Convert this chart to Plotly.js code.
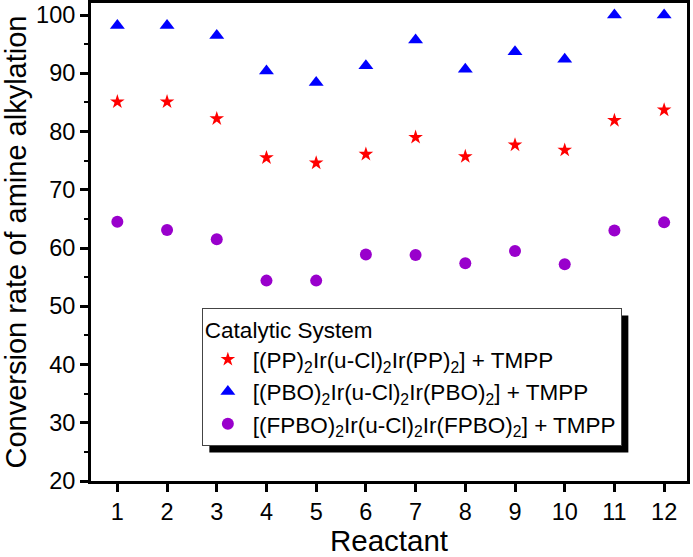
<!DOCTYPE html>
<html>
<head>
<meta charset="utf-8">
<script src="https://cdn.plot.ly/plotly-3.0.1.min.js"></script>
<style>html,body{margin:0;padding:0;background:#fff;}#chart{width:693px;height:557px;}</style>
</head>
<body>
<div id="chart"></div>
<script>
const reactants = [1,2,3,4,5,6,7,8,9,10,11,12];
const ppValues   = [85.1, 85.1, 82.2, 75.5, 74.6, 76.1, 79.0, 75.7, 77.7, 76.8, 81.9, 83.7];
const pboValues  = [98.2, 98.2, 96.5, 90.4, 88.4, 91.3, 95.7, 90.7, 93.7, 92.4, 100.0, 100.0];
const fpboValues = [64.5, 63.1, 61.5, 54.4, 54.4, 58.9, 58.8, 57.4, 59.5, 57.2, 63.0, 64.4];
const seriesNames = [
  '[(PP)<sub>2</sub>Ir(u-Cl)<sub>2</sub>Ir(PP)<sub>2</sub>] + TMPP',
  '[(PBO)<sub>2</sub>Ir(u-Cl)<sub>2</sub>Ir(PBO)<sub>2</sub>] + TMPP',
  '[(FPBO)<sub>2</sub>Ir(u-Cl)<sub>2</sub>Ir(FPBO)<sub>2</sub>] + TMPP'
];
const xTickVals = [1,2,3,4,5,6,7,8,9,10,11,12];
const yTickVals = [20,30,40,50,60,70,80,90,100];

const font = 'Liberation Sans, Arial, sans-serif';

const traces = [
  {x: reactants, y: ppValues, name: seriesNames[0], type: 'scatter', mode: 'markers',
   marker: {symbol: 'star', size: 11, color: '#ff0000'}},
  {x: reactants, y: pboValues, name: seriesNames[1], type: 'scatter', mode: 'markers',
   marker: {symbol: 'triangle-up', size: 13, color: '#0000ff'}},
  {x: reactants, y: fpboValues, name: seriesNames[2], type: 'scatter', mode: 'markers',
   marker: {symbol: 'circle', size: 12, color: '#9900cc'}}
];

const layout = {
  width: 693, height: 557,
  margin: {l: 91, r: 6, t: 3, b: 76},
  paper_bgcolor: '#ffffff', plot_bgcolor: '#ffffff',
  font: {family: font, color: '#000', size: 22},
  showlegend: true,
  xaxis: {
    range: [0.47, 12.46], tickvals: xTickVals, ticktext: xTickVals.map(String),
    showline: true, linewidth: 3, linecolor: '#000', mirror: true,
    ticks: 'outside', ticklen: 8, tickwidth: 3, tickcolor: '#000',
    showgrid: false, zeroline: false,
    tickfont: {family: font, size: 23.5, color: '#000'},
    title: {text: 'Reactant', font: {family: font, size: 29.5, color: '#000'}, standoff: 8}
  },
  yaxis: {
    range: [20, 102.06], tickvals: yTickVals,
    showline: true, linewidth: 3, linecolor: '#000', mirror: true,
    ticks: 'outside', ticklen: 8, tickwidth: 3, tickcolor: '#000',
    minor: {dtick: 5, ticks: 'outside', ticklen: 4, tickwidth: 2, tickcolor: '#000', showgrid: false},
    showgrid: false, zeroline: false,
    tickfont: {family: font, size: 23.5, color: '#000'},
    title: {text: 'Conversion rate of amine alkylation', font: {family: font, size: 29, color: '#000'}, standoff: 4}
  },
  legend: {
    x: 0.186, y: 0.362, xanchor: 'left', yanchor: 'top',
    bgcolor: '#ffffff', bordercolor: '#444', borderwidth: 1,
    font: {family: font, size: 22.5, color: '#000'},
    title: {text: 'Catalytic System', font: {family: font, size: 22.5, color: '#000'}},
    itemwidth: 40, tracegroupgap: 0
  },
  shapes: [
    {type: 'rect', xref: 'paper', yref: 'paper', x0: 0.196, x1: 0.899, y0: 0.077, y1: 0.347,
     fillcolor: '#000', line: {width: 0}, layer: 'below'}
  ]
};

Plotly.newPlot('chart', traces, layout, {displayModeBar: false, staticPlot: true}).then(function (gd) {
  // place the drop shadow 7px right / down of the rendered legend box
  const bg = gd.querySelector('.legend .bg');
  if (!bg) return;
  const b = bg.getBoundingClientRect();
  const c = gd.getBoundingClientRect();
  const fs = gd._fullLayout._size;
  const off = 7;
  const toPx = function (px) { return (px - c.left - fs.l) / fs.w; };
  const toPy = function (py) { return 1 - (py - c.top - fs.t) / fs.h; };
  return Plotly.relayout(gd, {
    'shapes[0].x0': toPx(b.left + off), 'shapes[0].x1': toPx(b.right + off),
    'shapes[0].y0': toPy(b.bottom + off), 'shapes[0].y1': toPy(b.top + off)
  });
});
</script>
</body>
</html>
